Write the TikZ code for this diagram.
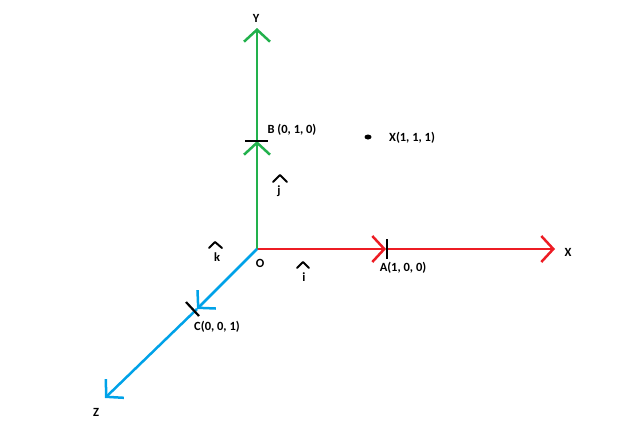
\documentclass[tikz,border=0pt]{standalone}
\usepackage{fontspec}
\setmainfont{Carlito}
\usetikzlibrary{arrows.meta}
\definecolor{axisred}{RGB}{237,28,36}
\definecolor{axisgreen}{RGB}{34,177,76}
\definecolor{axisblue}{RGB}{0,162,232}

\begin{document}
\begin{tikzpicture}[x=1pt,y=-1pt,
                hatmark/.style={line width=2pt,line join=round,line cap=round}]
                \useasboundingbox (0,0) rectangle (634,423);
                \coordinate (o) at (257,249);
                \coordinate (a) at (386,249);
                \coordinate (b) at (257,141);
                \coordinate (c) at (197,309);
                \coordinate (xend) at (555,249);
                \coordinate (yend) at (257,28);
                \coordinate (zend) at (105,398);

                \begin{scope}[>={Straight Barb[length=12pt,width=26pt]},
                    every edge/.style={draw,line width=2.5pt}]
                    \path [->, axisred] (o) edge (a);
                    \path [->, axisred] (a) edge (xend);
                    \path [->, axisgreen] (o) edge (b);
                    \path [->, axisgreen] (b) edge (yend);
                    \path [->, axisblue] (o) edge (c);
                    \path [->, axisblue] (c) edge (zend);
                \end{scope}

                % tick marks
                \draw [line width=2.2pt] (387,239) -- (387,259);
                \draw [line width=2.2pt] (245,141) -- (268,141);
                \draw [line width=2.2pt] (186,302) -- (199,316);
                \fill (368,137) ellipse (3.5pt and 2.5pt);

                % hats over the unit vectors
                \draw [hatmark] (273,182) -- (280,175) -- (287,182);
                \draw [hatmark] (209,248) -- (215,242) -- (222,248);
                \draw [hatmark] (297,268) -- (303,262) -- (309,268);

                \begin{scope}[every node/.style={font=\bfseries\fontsize{12.5}{14}\selectfont,inner sep=0pt}]
                    \node (ylbl) at (256,18) {Y};
                    \node (xlbl) at (568,252) {X};
                    \node (zlbl) at (96,412) {Z};
                    \node (olbl) at (260,263) {O};
                    \node (blbl) at (292,130) {B (0, 1, 0)};
                    \node (plbl) at (412,138) {X(1, 1, 1)};
                    \node (albl) at (403,268) {A(1, 0, 0)};
                    \node (clbl) at (217,327) {C(0, 0, 1)};
                    \node (jlbl) at (279,191) {j};
                    \node (klbl) at (217,257) {k};
                    \node (ilbl) at (304,277) {i};
                \end{scope}
            \end{tikzpicture}
\end{document}
